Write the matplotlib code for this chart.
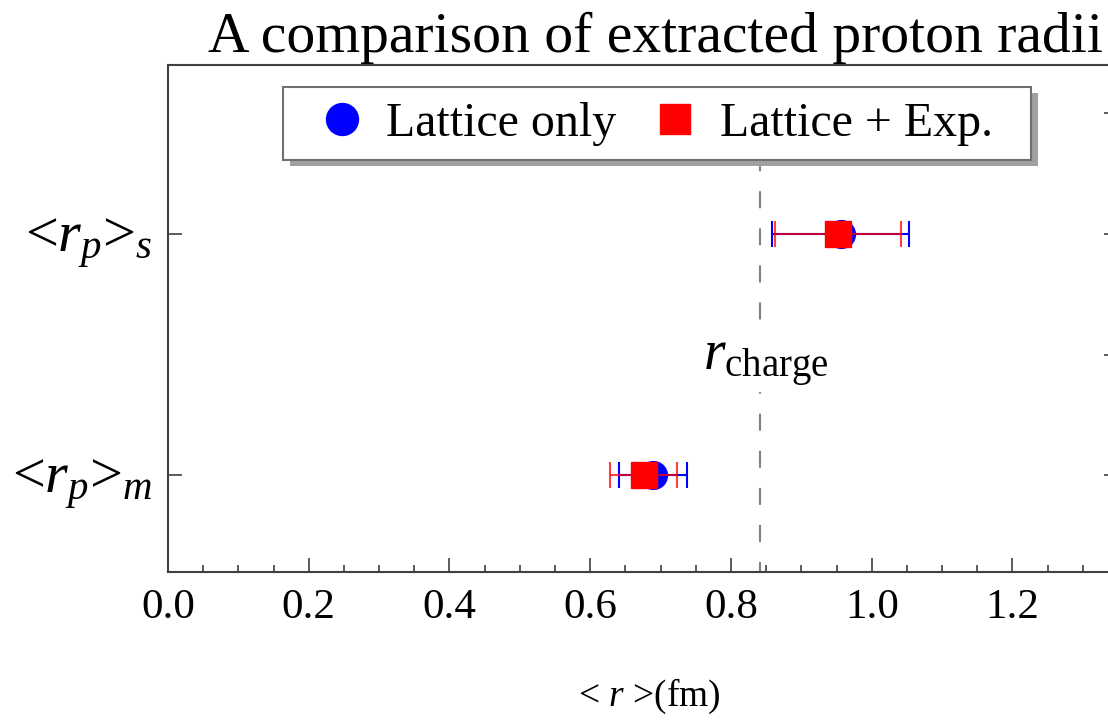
import matplotlib
matplotlib.use('Agg')
import matplotlib.pyplot as plt
from matplotlib.ticker import MultipleLocator
from matplotlib.patches import Rectangle
from matplotlib.transforms import IdentityTransform

# data
y_labels = [r'<$r_p$>$_m$', r'<$r_p$>$_s$']
y_pos = [1, 2]
lattice_only = [0.689, 0.956]
lattice_only_err = [0.048, 0.097]
lattice_exp = [0.676, 0.952]
lattice_exp_err = [0.048, 0.090]
r_charge = 0.841

plt.rcParams['font.family'] = ['Liberation Serif', 'DejaVu Serif']
plt.rcParams['mathtext.fontset'] = 'custom'
plt.rcParams['mathtext.rm'] = 'Liberation Serif'
plt.rcParams['mathtext.it'] = 'Liberation Serif:italic'


def plot_radii():
    fig = plt.figure(figsize=(11.08, 7.2), dpi=100)
    ax = fig.add_axes([168 / 1108, 1 - 572 / 720, 950 / 1108, 507 / 720])

    # reference line for the charge radius (runs up behind the legend)
    ax.axvline(r_charge, ymax=0.85, color='#808080', lw=1.5,
               ls=(3.4, (8.2, 9.6)), zorder=1)
    ax.text(0.85, 1.465, r'$r_{\rm charge}$', fontsize=40, ha='center', va='center',
            bbox=dict(facecolor='white', edgecolor='none', pad=2), zorder=2)

    eb1 = ax.errorbar(lattice_only, y_pos, xerr=lattice_only_err, fmt='o', color='blue',
                      ms=20, elinewidth=1.5, capsize=9.7, capthick=1.5, zorder=3)
    eb2 = ax.errorbar(lattice_exp, y_pos, xerr=lattice_exp_err, fmt='s', color='red',
                      ecolor=(1, 0, 0, 0.75), ms=19, elinewidth=1.5, capsize=9.7,
                      capthick=1.5, zorder=4)

    ax.set_xlim(0, 1.35)
    ax.set_ylim(0.6, 2.7)
    ax.set_xticks([0.0, 0.2, 0.4, 0.6, 0.8, 1.0, 1.2])
    ax.set_xticklabels(['0.0', '0.2', '0.4', '0.6', '0.8', '1.0', '1.2'])
    ax.xaxis.set_minor_locator(MultipleLocator(0.05))
    ax.set_yticks(y_pos)
    ax.set_yticklabels(y_labels)
    ax.yaxis.set_minor_locator(MultipleLocator(0.5))

    ax.tick_params(axis='x', which='major', direction='in', length=10, width=1.2,
                   labelsize=31, pad=12, top=False, color='#404040')
    ax.tick_params(axis='x', which='minor', direction='in', length=5, width=1.2,
                   top=False, color='#404040')
    ax.tick_params(axis='y', which='major', direction='in', length=10, width=1.2,
                   labelsize=42, pad=11, left=True, right=True, color='#404040')
    ax.tick_params(axis='y', which='minor', direction='in', length=10, width=1.2,
                   left=False, right=True, color='#404040')
    for sp in ax.spines.values():
        sp.set_linewidth(1.5)
        sp.set_color('#404040')

    ax.set_title('A comparison of extracted proton radii', fontsize=41.5, pad=9, x=0.513)
    ax.set_xlabel(r'< $r$ >(fm)', fontsize=27)
    ax.xaxis.set_label_coords(0.507, -0.285)
    ax.xaxis.label.set_verticalalignment('bottom')

    leg = ax.legend([eb1[0], eb2[0]], ['Lattice only', 'Lattice + Exp.  '], ncol=2,
                    loc='center', bbox_to_anchor=(0.515, 0.884), fontsize=34.5,
                    markerscale=1.15, handlelength=1.85, handletextpad=0.0,
                    columnspacing=0.3, borderpad=0.3, fancybox=False,
                    framealpha=1, edgecolor='#707070')
    leg.get_frame().set_linewidth(1.5)

    # drop shadow behind the legend box
    fig.canvas.draw()
    bb = leg.get_window_extent()
    ax.add_patch(Rectangle((bb.x0 + 7, bb.y0 - 6), bb.width, bb.height,
                           transform=IdentityTransform(), facecolor='#a0a0a0',
                           edgecolor='none', zorder=4.9, clip_on=False))

    fig.savefig('out.png', dpi=100)


if __name__ == "__main__":
    plot_radii()
